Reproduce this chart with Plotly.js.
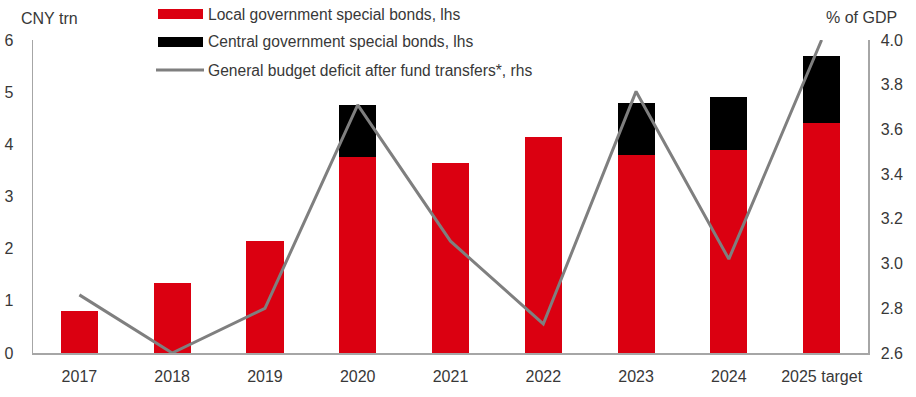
<!DOCTYPE html>
<html>
<head>
<meta charset="utf-8">
<script src="https://cdn.plot.ly/plotly-3.0.1.min.js"></script>
<style>html,body{margin:0;padding:0;background:#fff;}#chart{width:916px;height:397px;}</style>
</head>
<body>
<div id="chart"></div>
<script>
const categories = ["2017","2018","2019","2020","2021","2022","2023","2024","2025 target"];
const localBonds = [0.8, 1.35, 2.15, 3.75, 3.65, 4.15, 3.8, 3.9, 4.4];
const centralBonds = [0, 0, 0, 1.0, 0, 0, 1.0, 1.0, 1.3];
const deficitPct = [2.86, 2.6, 2.8, 3.71, 3.1, 2.73, 3.77, 3.02, 4.0];
const leftTicks = [0,1,2,3,4,5,6];
const rightTicks = [2.6,2.8,3.0,3.2,3.4,3.6,3.8,4.0];
const legendNames = ["Local government special bonds, lhs","Central government special bonds, lhs","General budget deficit after fund transfers*, rhs"];

const RED = '#db0011', GREY_LINE = '#7f7f7f', AXIS = '#a6a6a6', TXT = '#383838';
const FONT = 'Liberation Sans, Arial, sans-serif';
const W = 916, H = 397, ML = 33, MR = 48, MT = 40, MB = 44;
const pw = W - ML - MR, ph = H - MT - MB;
const px = x => (x - ML) / pw;
const py = y => (H - MB - y) / ph;

const traces = [
  {type:'bar', x:categories, y:localBonds, name:legendNames[0], marker:{color:RED}, showlegend:false, hoverinfo:'skip'},
  {type:'bar', x:categories, y:centralBonds, name:legendNames[1], marker:{color:'#000000'}, showlegend:false, hoverinfo:'skip'},
  {type:'scatter', mode:'lines', x:categories, y:deficitPct, yaxis:'y2', name:legendNames[2], line:{color:GREY_LINE, width:3}, cliponaxis:false, showlegend:false, hoverinfo:'skip'}
];

const shapes = [
  {type:'rect', xref:'paper', yref:'paper', x0:px(158), x1:px(203), y0:py(19), y1:py(9), fillcolor:RED, line:{width:0}},
  {type:'rect', xref:'paper', yref:'paper', x0:px(158), x1:px(203), y0:py(47), y1:py(37), fillcolor:'#000', line:{width:0}},
  {type:'line', xref:'paper', yref:'paper', x0:px(156), x1:px(204), y0:py(70), y1:py(70), line:{color:GREY_LINE, width:3}}
];
const LF = 15.6;
const annotations = [
  {xref:'paper', yref:'paper', x:px(206), y:py(14), xanchor:'left', yanchor:'middle', text:legendNames[0], showarrow:false, font:{family:FONT, size:LF, color:TXT}},
  {xref:'paper', yref:'paper', x:px(206), y:py(42), xanchor:'left', yanchor:'middle', text:legendNames[1], showarrow:false, font:{family:FONT, size:LF, color:TXT}},
  {xref:'paper', yref:'paper', x:px(206), y:py(70), xanchor:'left', yanchor:'middle', text:legendNames[2], showarrow:false, font:{family:FONT, size:LF, color:TXT}},
  {xref:'paper', yref:'paper', x:px(19), y:py(19), xanchor:'left', yanchor:'middle', text:'CNY trn', showarrow:false, font:{family:FONT, size:16, color:TXT}},
  {xref:'paper', yref:'paper', x:px(899), y:py(18), xanchor:'right', yanchor:'middle', text:'% of GDP', showarrow:false, font:{family:FONT, size:16, color:TXT}}
];

const layout = {
  width:W, height:H,
  margin:{l:ML, r:MR, t:MT, b:MB, pad:0},
  paper_bgcolor:'#fff', plot_bgcolor:'#fff',
  font:{family:FONT, size:16, color:TXT},
  barmode:'stack', bargap:0.6,
  showlegend:false,
  xaxis:{type:'category', showline:true, linecolor:AXIS, linewidth:1.5, ticks:'outside', ticklen:8, tickcolor:'rgba(0,0,0,0)', showgrid:false, zeroline:false, tickfont:{size:16, color:TXT}},
  yaxis:{range:[0,6], tickvals:leftTicks, showline:true, linecolor:AXIS, linewidth:1.5, ticks:'outside', ticklen:15, tickcolor:'rgba(0,0,0,0)', showgrid:false, zeroline:false, tickfont:{size:16, color:TXT}},
  yaxis2:{overlaying:'y', side:'right', range:[2.6,4.0], tickvals:rightTicks, tickformat:'.1f', showline:true, linecolor:AXIS, linewidth:1.5, ticks:'outside', ticklen:8, tickcolor:'rgba(0,0,0,0)', showgrid:false, zeroline:false, tickfont:{size:16, color:TXT}},
  shapes:shapes, annotations:annotations
};

Plotly.newPlot('chart', traces, layout, {displayModeBar:false, staticPlot:true});
</script>
</body>
</html>
